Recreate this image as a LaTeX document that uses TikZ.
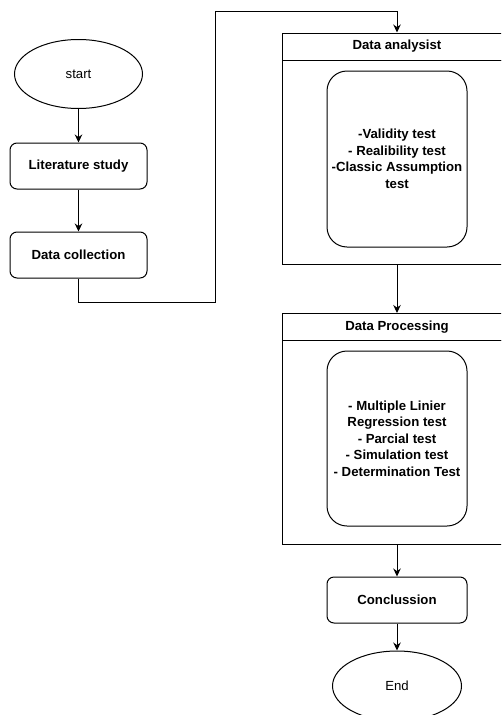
\documentclass[tikz,border=0pt]{standalone}
\usepackage{fontspec}
\setmainfont{Liberation Sans}
\usetikzlibrary{shapes.geometric,arrows.meta}
\begin{document}
\begin{tikzpicture}[x=1pt,y=-1pt,
  every node/.style={font=\fontsize{13.2}{16.5}\selectfont, line width=1pt},
  line/.style={draw, line width=1pt},
  arr/.style={line, -{Stealth[length=8pt,width=7.5pt]}},
  term/.style={ellipse, draw, inner sep=0pt},
  proc/.style={rectangle, draw, rounded corners=7pt, minimum width=137pt, minimum height=46pt, inner sep=0pt, font=\fontsize{13.2}{16.5}\selectfont\bfseries},
  hdr/.style={rectangle, draw, minimum width=230pt, minimum height=27pt, inner sep=0pt, font=\fontsize{13.2}{16.5}\selectfont\bfseries},
  body/.style={rectangle, draw, minimum width=230pt, inner sep=0pt},
  inner/.style={rectangle, draw, rounded corners=20pt, minimum width=140pt, inner sep=0pt, align=center, font=\fontsize{13.2}{16.5}\selectfont\bfseries}
]
\useasboundingbox (0,0) rectangle (501,715);
\clip (0,0) rectangle (501,715);

\node[term, minimum width=128pt, minimum height=69pt] (start) at (78.5,74) {start};
\node[proc] (lit) at (78.5,166) {Literature study};
\node[proc] (dc) at (78.5,255) {Data collection};

\node[hdr] (hA) at (397,46.5) {Data analysist};
\node[body, minimum height=204pt] (bA) at (397,162) {};
\node[inner, minimum height=176pt] (iA) at (397,159) {-Validity test\\- Realibility test\\-Classic Assumption\\test};

\node[hdr] (hP) at (397,327) {Data Processing};
\node[body, minimum height=203.5pt] (bP) at (397,442.25) {};
\node[inner, minimum height=175pt] (iP) at (397,438.5) {- Multiple Linier\\Regression test\\- Parcial test\\- Simulation test\\- Determination Test};

\node[proc, minimum width=140pt] (con) at (397,600) {Conclussion};
\node[term, minimum width=129pt, minimum height=70pt] (end) at (397,686) {End};

\coordinate (c1) at (78.5,302);
\coordinate (c2) at (215,302);
\coordinate (c3) at (215,11);
\coordinate (c4) at (397,11);

\draw[arr] (start) -- (lit);
\draw[arr] (lit) -- (dc);
\draw[arr] (dc.south) -- (c1) -- (c2) -- (c3) -- (c4) -- (hA.north);
\draw[arr] (bA.south) -- (hP.north);
\draw[arr] (bP.south) -- (con.north);
\draw[arr] (con.south) -- (end.north);
\end{tikzpicture}
\end{document}
